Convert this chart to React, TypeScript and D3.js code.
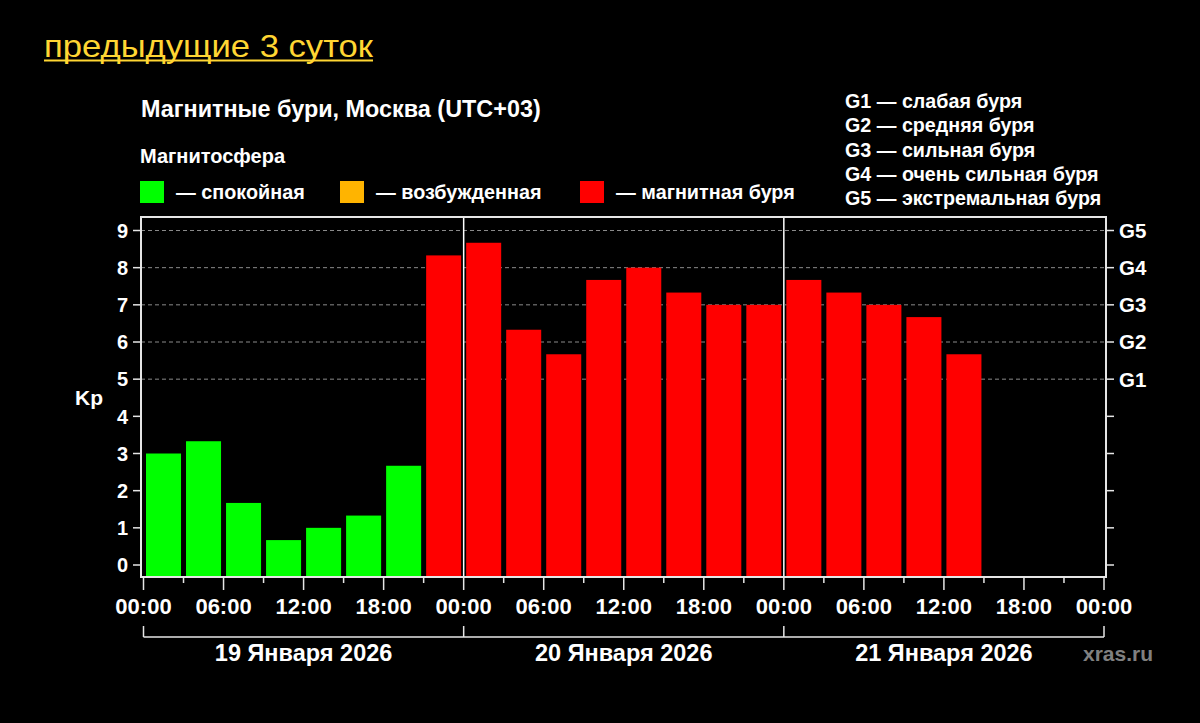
import React from "react";
import * as d3 from "d3";

const kpValues = [
  3.0, 3.33, 1.67, 0.67, 1.0, 1.33, 2.67, 8.33,
  8.67, 6.33, 5.67, 7.67, 8.0, 7.33, 7.0, 7.0,
  7.67, 7.33, 7.0, 6.67, 5.67,
];
const dayLabels = ["19 Января 2026", "20 Января 2026", "21 Января 2026"];
const yTicks = [0, 1, 2, 3, 4, 5, 6, 7, 8, 9];
const gLevels = [5, 6, 7, 8, 9];
const gLabels = ["G1", "G2", "G3", "G4", "G5"];
const gLegend = [
  "G1 — слабая буря",
  "G2 — средняя буря",
  "G3 — сильная буря",
  "G4 — очень сильная буря",
  "G5 — экстремальная буря",
];
const legendLabels = ["— спокойная", "— возбужденная", "— магнитная буря"];
const legendColors = ["#00ff00", "#ffb400", "#ff0000"];

const FONT = "'Liberation Sans', Arial, sans-serif";

export default function App() {
  const W = 1200, H = 723;
  const left = 141, right = 1106, top = 217, bottom = 577;
  const x = d3.scaleLinear().domain([0, 72]).range([143.5, 1104]);
  const y = d3.scaleLinear().domain([0, 9]).range([565, 230.5]);
  const colorFor = (v: number) => (v < 4 ? legendColors[0] : v < 5 ? legendColors[1] : legendColors[2]);
  const hourTicks = d3.range(0, 73, 3);

  return (
    <svg width={W} height={H} style={{ position: "absolute", left: 0, top: 0, background: "#000" }} fontFamily={FONT}>
      <rect x={0} y={0} width={W} height={H} fill="#000" />
      {/* page title */}
      <text x={44} y={56.5} fill="#ffd633" fontSize={30.5} textLength={329} lengthAdjust="spacingAndGlyphs">предыдущие 3 суток</text>
      <line x1={44} x2={373} y1={60.5} y2={60.5} stroke="#ffd633" strokeWidth={2} />

      {/* chart titles */}
      <text x={141} y={117} fill="#fff" fontSize={23.4} fontWeight="bold">Магнитные бури, Москва (UTC+03)</text>
      <text x={140} y={163} fill="#fff" fontSize={20} fontWeight="bold">Магнитосфера</text>
      {legendLabels.map((l, i) => {
        const lx = [140, 340, 580][i];
        return (
          <g key={l}>
            <rect x={lx} y={181} width={24} height={22} fill={legendColors[i]} />
            <text x={lx + 36} y={199} fill="#fff" fontSize={19.8} fontWeight="bold">{l}</text>
          </g>
        );
      })}
      {gLegend.map((g, i) => (
        <text key={g} x={845} y={108 + i * 24.3} fill="#fff" fontSize={19.7} fontWeight="bold">{g}</text>
      ))}

      {/* grid */}
      {gLevels.map((v) => (
        <line key={v} x1={left} x2={right} y1={y(v)} y2={y(v)} stroke="#8a8a8a" strokeWidth={1} strokeDasharray="4 3" />
      ))}

      {/* bars */}
      {kpValues.map((v, i) => (
        <rect key={i} x={x(i * 3) + 2.5} width={x(3) - x(0) - 5} y={y(v)} height={bottom - y(v)} fill={colorFor(v)} />
      ))}

      {/* day separators */}
      {[24, 48].map((h) => (
        <line key={h} x1={x(h)} x2={x(h)} y1={top} y2={bottom} stroke="#fff" strokeWidth={1.5} />
      ))}

      {/* frame */}
      <rect x={left} y={top} width={right - left} height={bottom - top} fill="none" stroke="#e6e6e6" strokeWidth={2} />

      {/* left axis */}
      {yTicks.map((t) => (
        <g key={t}>
          <line x1={left - 8} x2={left} y1={y(t)} y2={y(t)} stroke="#e6e6e6" strokeWidth={1.5} />
          <text x={128} y={y(t)} dy="0.36em" textAnchor="end" fill="#fff" fontSize={20} fontWeight="bold">{t}</text>
        </g>
      ))}
      <text x={75} y={405} fill="#fff" fontSize={21} fontWeight="bold">Kp</text>

      {/* right axis */}
      {yTicks.map((t) => (
        <line key={t} x1={right} x2={right + 8} y1={y(t)} y2={y(t)} stroke="#e6e6e6" strokeWidth={1.5} />
      ))}
      {gLevels.map((v, i) => (
        <text key={v} x={1119} y={y(v)} dy="0.36em" fill="#fff" fontSize={20.5} fontWeight="bold">{gLabels[i]}</text>
      ))}

      {/* bottom axis */}
      {hourTicks.map((h) => (
        <line key={h} x1={x(h)} x2={x(h)} y1={bottom} y2={bottom + (h % 6 === 0 ? 13 : 6)} stroke="#e6e6e6" strokeWidth={1.5} />
      ))}
      {hourTicks.filter((h) => h % 6 === 0).map((h) => (
        <text key={h} x={x(h)} y={614} textAnchor="middle" fill="#fff" fontSize={22} fontWeight="bold">
          {d3.format("02d")(h % 24) + ":00"}
        </text>
      ))}

      {/* day bracket */}
      <line x1={x(0)} x2={x(72)} y1={637} y2={637} stroke="#e6e6e6" strokeWidth={1.5} />
      {[0, 24, 48, 72].map((h) => (
        <line key={h} x1={x(h)} x2={x(h)} y1={626} y2={637} stroke="#e6e6e6" strokeWidth={1.5} />
      ))}
      {dayLabels.map((d, i) => (
        <text key={d} x={x(i * 24 + 12)} y={661} textAnchor="middle" fill="#fff" fontSize={23.5} fontWeight="bold">{d}</text>
      ))}
      <text x={1083} y={661} fill="#808080" fontSize={21} fontWeight="bold">xras.ru</text>
    </svg>
  );
}
